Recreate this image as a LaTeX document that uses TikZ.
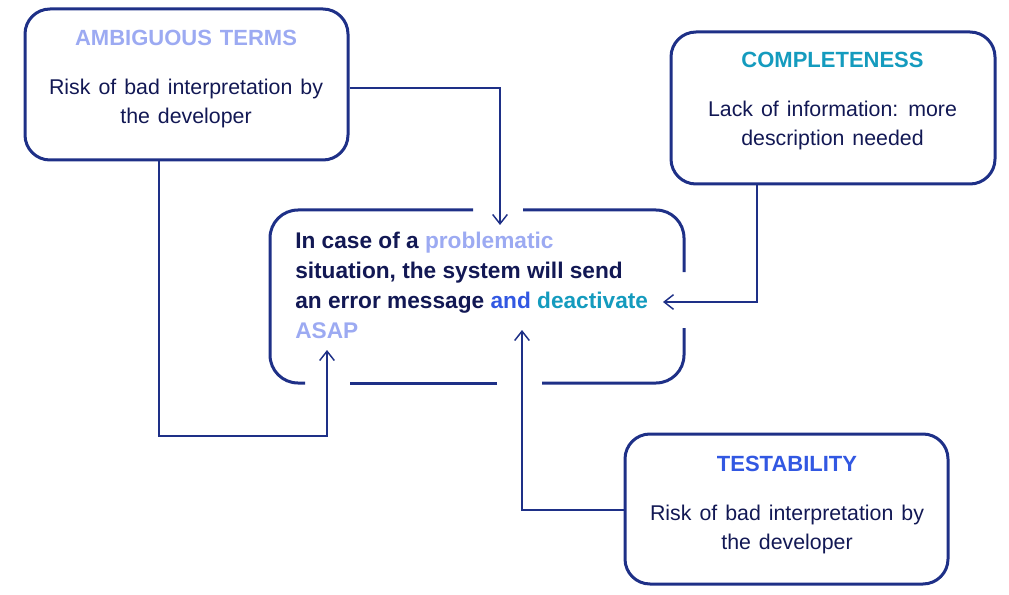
\documentclass[tikz,border=0pt]{standalone}
\usepackage{fontspec}
\setmainfont{Liberation Sans}
\newfontfamily\bodyfont[WordSpace=1.35]{Liberation Sans}
\usetikzlibrary{arrows.meta}
\definecolor{bordc}{RGB}{30,48,135}
\definecolor{txtc}{RGB}{18,24,84}
\definecolor{lavc}{RGB}{156,170,242}
\definecolor{tealc}{RGB}{20,155,190}
\definecolor{bluec}{RGB}{50,88,226}
\tikzset{
  rbox/.style={draw=bordc, line width=2.25pt, rounded corners=18.75pt, inner sep=0pt},
  conn/.style={draw=bordc, line width=1.1pt, -{Straight Barb[length=7pt,width=11pt]}},
  ttl/.style={anchor=base, inner sep=0pt, font=\fontsize{16.5}{20}\selectfont\bfseries},
  body/.style={anchor=base, inner sep=0pt, text=txtc, font=\bodyfont\fontsize{16}{20}\selectfont},
  ctxt/.style={anchor=base west, inner sep=0pt, text=txtc, font=\fontsize{17}{20}\selectfont\bfseries}
}
\begin{document}
\begin{tikzpicture}[x=0.75pt,y=-0.75pt]
\useasboundingbox (0,0) rectangle (1009,595);
% boxes
\node[rbox, minimum width=242.25pt, minimum height=113.25pt] (amb) at (186.5,84.5) {};
\node[rbox, minimum width=243pt, minimum height=114pt] (comp) at (833,108) {};
\node[rbox, minimum width=242.25pt, minimum height=112.5pt] (test) at (786.5,509) {};
\node[inner sep=0pt, minimum width=310.5pt, minimum height=129.75pt] (ctr) at (477,296.5) {};
% central box border with gaps
\begin{scope}[draw=bordc, line width=2.25pt, rounded corners=21pt]
\draw (523,210) -- (684,210) -- (684,272);
\draw (684,328) -- (684,383) -- (542,383);
\draw (497,383) -- (350,383);
\draw (305,383) -- (270,383) -- (270,210) -- (473,210);
\end{scope}
% texts
\node[ttl, text=lavc] (ambT) at (186,46) {AMBIGUOUS\hspace{6pt}TERMS};
\node[body] (ambB1) at (186,95) {Risk of bad interpretation by};
\node[body] (ambB2) at (186,124) {the developer};
\node[ttl, text=tealc] (compT) at (832.5,68) {COMPLETENESS};
\node[body] (compB1) at (832.5,117) {Lack of information: more};
\node[body] (compB2) at (832.5,146) {description needed};
\node[ttl, text=bluec] (testT) at (787,471) {TESTABILITY};
\node[body] (testB1) at (787,520) {Risk of bad interpretation by};
\node[body] (testB2) at (787,549) {the developer};
\node[ctxt] (c1) at (295,248) {In case of a \textcolor{lavc}{problematic}};
\node[ctxt] (c2) at (295,278) {situation, the system will send};
\node[ctxt] (c3) at (295,308) {an error message \textcolor{bluec}{and} \textcolor{tealc}{deactivate}};
\node[ctxt, text=lavc] (c4) at (295,338) {ASAP};
% arrow ends
\coordinate (tA) at (500,225);
\coordinate (tB) at (327,350);
\coordinate (tC) at (663,302);
\coordinate (tD) at (522,330);
% connectors
\draw[conn] (amb.east |- 0,88) -| (tA);
\draw[conn] (amb.south -| 159,0) -- (159,436) -| (tB);
\draw[conn] (comp.south -| 757,0) |- (tC);
\draw[conn] (test.west |- 0,510) -| (tD);
\end{tikzpicture}
\end{document}
